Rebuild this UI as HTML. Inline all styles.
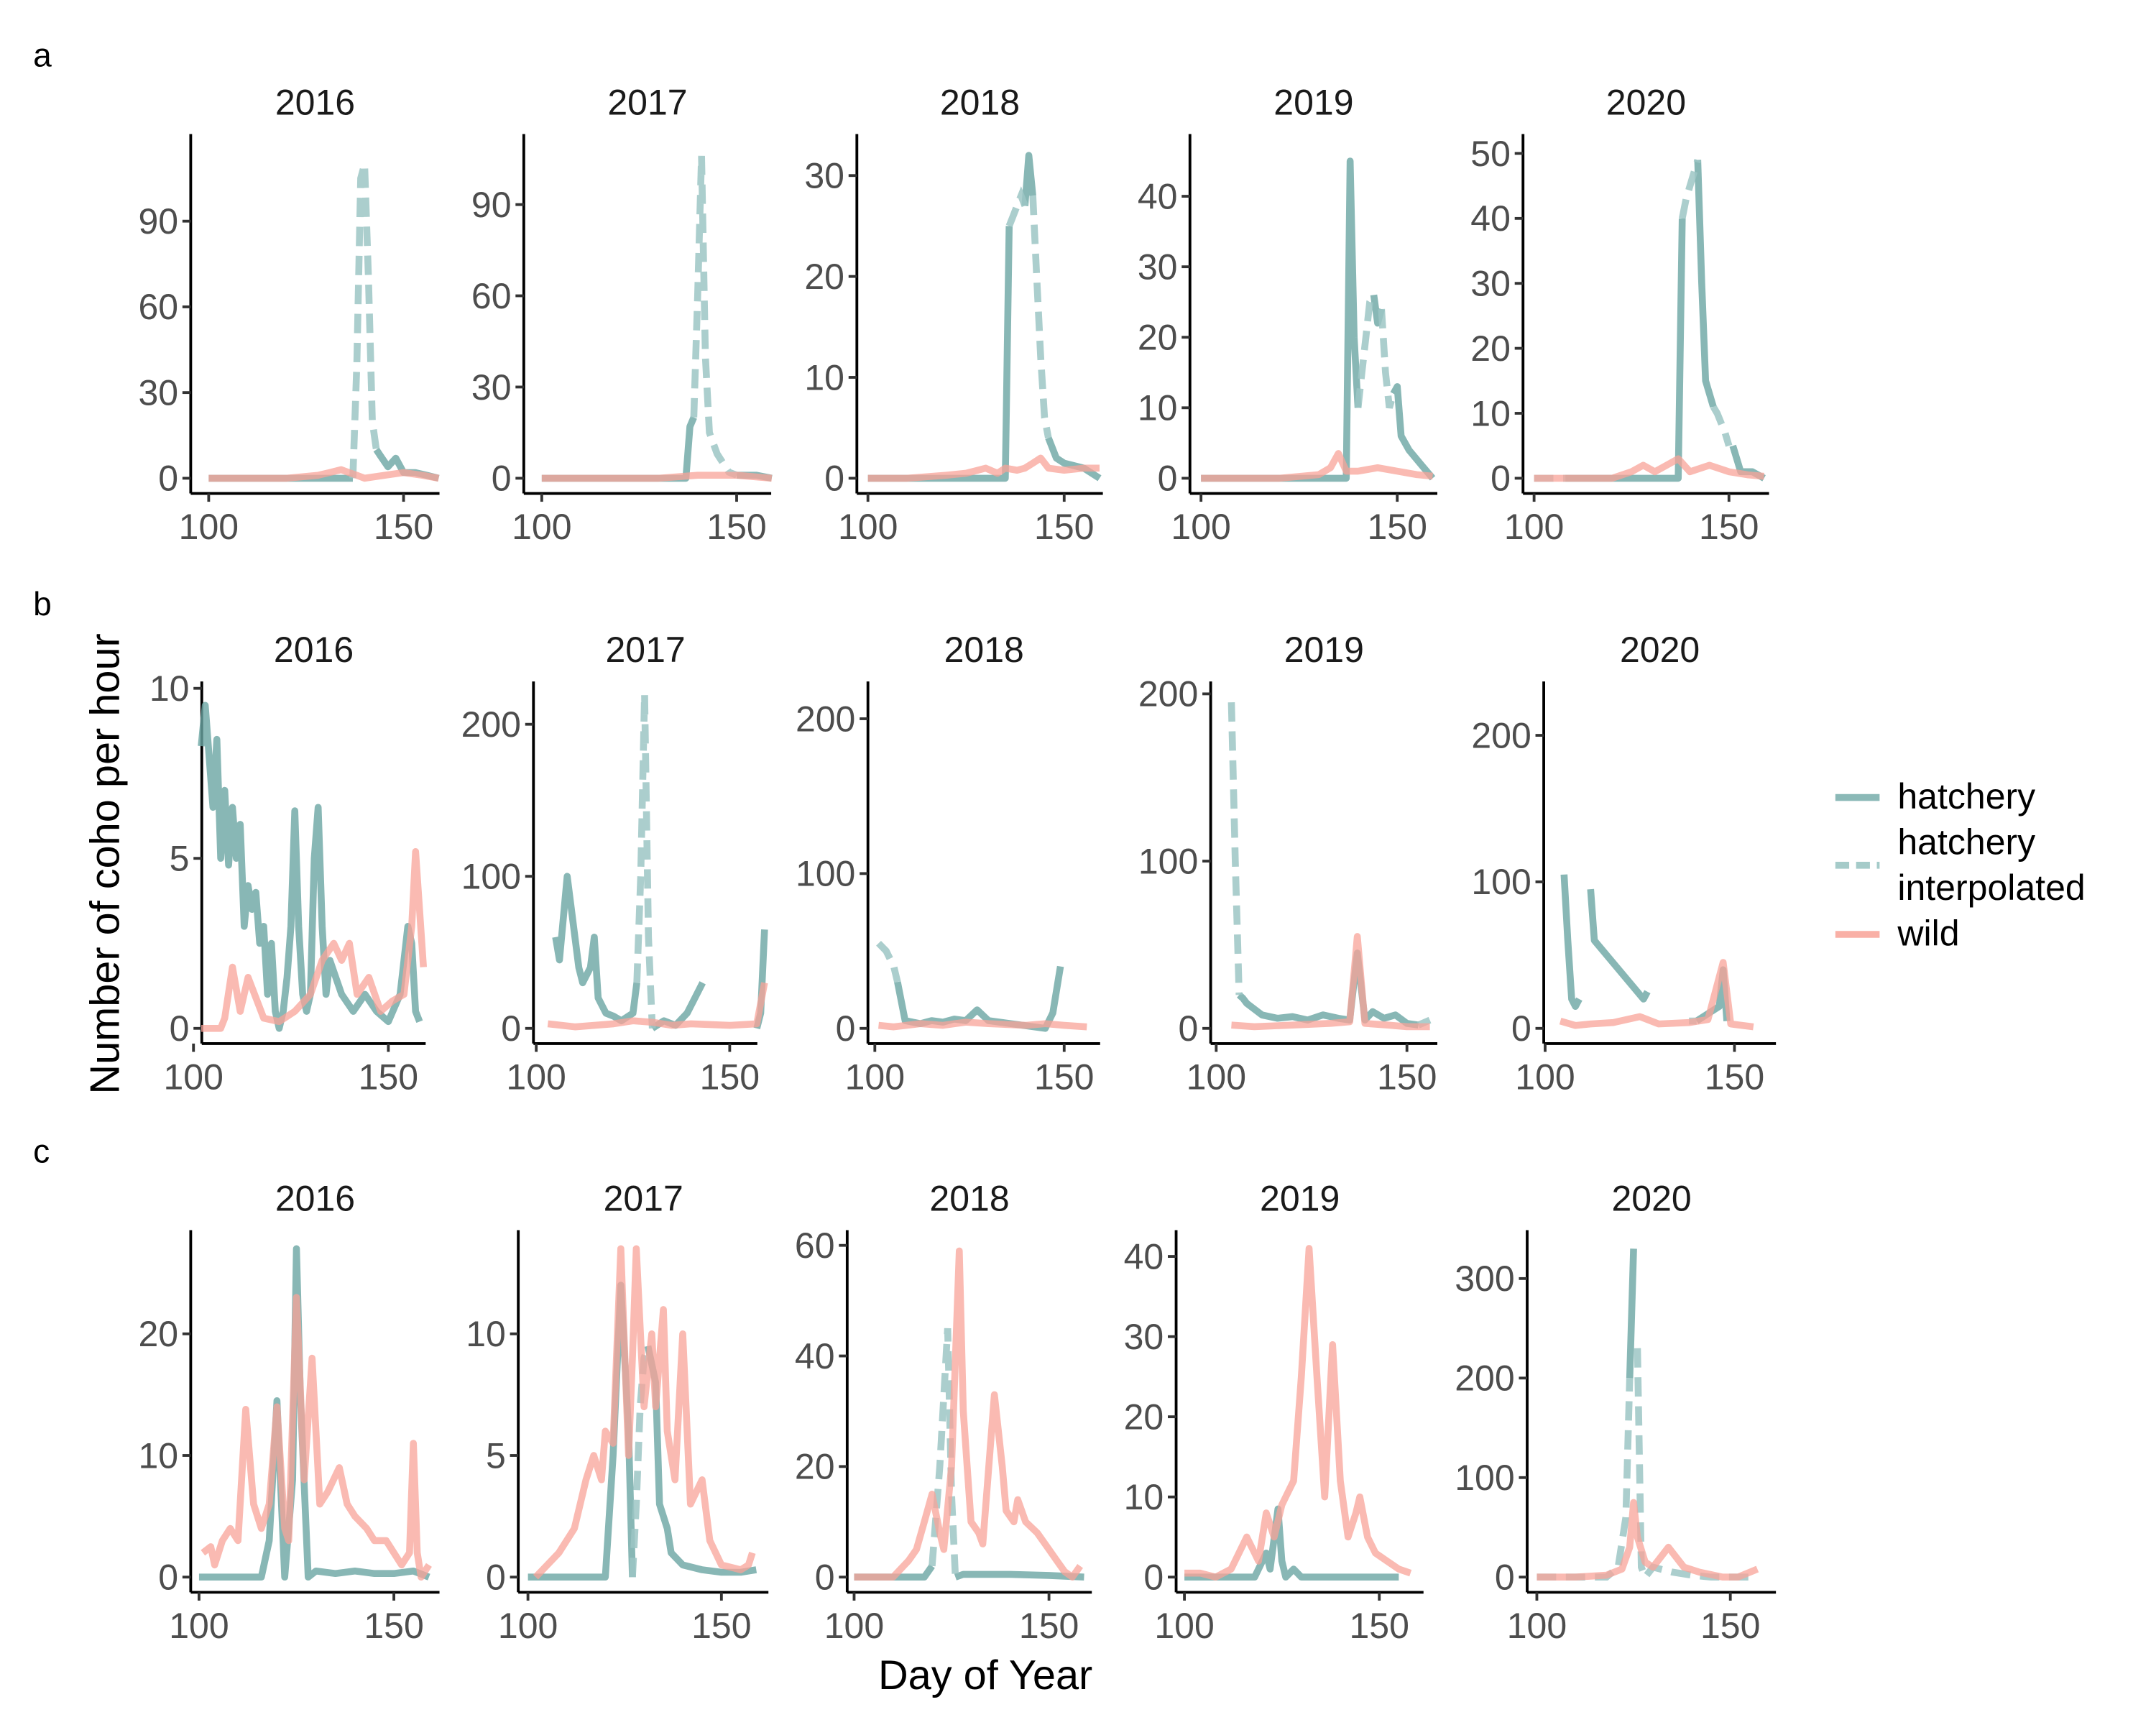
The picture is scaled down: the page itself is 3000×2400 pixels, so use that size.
<!DOCTYPE html>
<html><head><meta charset="utf-8"><style>
html,body{margin:0;padding:0;background:#fff}
svg{display:block}
text{font-family:"Liberation Sans",Arial,sans-serif}
</style></head><body>
<svg id="chart" width="3000" height="2400" viewBox="0 0 1560 1248" xmlns="http://www.w3.org/2000/svg">
<rect width="1560" height="1248" fill="#fff"/>
<text x="24" y="48" font-size="24">a</text>
<text x="24" y="445" font-size="24">b</text>
<text x="24" y="841" font-size="24">c</text>
<text transform="translate(86,625) rotate(-90)" text-anchor="middle" font-size="30">Number of coho per hour</text>
<text x="713" y="1222" text-anchor="middle" font-size="30">Day of Year</text>
<g>
<line x1="1328" y1="577" x2="1360" y2="577" stroke="#7fb2b0" stroke-width="5" opacity="0.9"/>
<text x="1373" y="585" font-size="26">hatchery</text>
<line x1="1328" y1="626" x2="1360" y2="626" stroke="#a5cbc9" stroke-width="5" stroke-dasharray="10,5"/>
<text x="1373" y="618" font-size="26">hatchery</text>
<text x="1373" y="651" font-size="26">interpolated</text>
<line x1="1328" y1="676" x2="1360" y2="676" stroke="#f9b0a6" stroke-width="5"/>
<text x="1373" y="684" font-size="26">wild</text>
</g>
<g id="panels"></g>
</svg>
<script>
const N=null;
// ---- Row a data ----
const a2016_days=[100,120,137,138,139,140,141,142,143,144,146,148,150,153,156,159];
const a2016_hatch=[0,0,0,N,N,N,N,N,10,8,4,7,2,2,1,0];
const a2016_interp=[N,N,0,40,105,110,70,20,10,N,N,N,N,N,N,N];
const a2016_wdays=[100,120,128,131,134,136,138,140,145,150,155,159];
const a2016_wild=[0,0,1,2,3,2,1,0,1,2,1,0];
const a2017_days=[100,130,137,138,139,140,141,142,143,145,148,150,155,159];
const a2017_hatch=[0,0,0,17,20,N,N,N,N,N,N,1,1,0];
const a2017_interp=[N,N,N,N,20,60,106,40,15,8,2,1,N,N];
const a2017_wdays=[100,130,140,150,159];
const a2017_wild=[0,0,1,1,0];
const a2018_days=[100,120,135,136,137,138,139,140,141,142,143,144,145,146,148,150,155,159];
const a2018_hatch=[0,0,0,25,N,N,N,27,32,28,N,N,N,4,2,1.5,1,0];
const a2018_interp=[N,N,N,25,26,27,28,27,N,28,20,12,6,4,N,N,N,N];
const a2018_wdays=[100,110,120,125,128,130,133,135,138,140,142,144,146,150,155,159];
const a2018_wild=[0,0,0.3,0.5,0.8,1,0.5,1,0.8,1,1.5,2,1,0.8,1,1];
const a2019_days=[100,120,137,138,139,140,141,142,143,144,145,146,147,148,149,150,151,153,156,159];
const a2019_hatch=[0,0,0,45,20,10,N,N,N,26,22,24,N,N,12,13,6,4,2,0];
const a2019_interp=[N,N,N,N,N,10,15,20,25,26,N,24,15,10,12,N,N,N,N,N];
const a2019_wdays=[100,120,130,133,135,137,140,145,150,155,159];
const a2019_wild=[0,0,0.5,1.5,3.5,1,1,1.5,1,0.5,0.3];
const a2020_days=[100,108,120,137,138,139,140,141,142,143,144,146,147,149,150,151,153,156,159];
const a2020_hatch=[N,0,0,0,40,N,N,N,49,30,15,11,N,N,N,5,1,1,0];
const a2020_interp=[0,0,N,N,40,43,45,47,49,N,N,11,10,7,5,N,N,N,N];
const a2020_wdays=[100,120,125,128,131,134,137,140,145,150,155,159];
const a2020_wild=[0,0,1,2,1,2,3,1,2,1,0.5,0.3];
// ---- Row b data ----
const b2016_days=[102,103,104,105,106,107,108,109,110,111,112,113,114,115,116,117,118,119,120,121,122,123,124,125,126,127,128,129,130,131,132,133,134,135,138,141,144,147,150,153,155,156,157,158];
const b2016_hatch=[8.3,9.5,8,6.5,8.5,5,7,4.8,6.5,5,6,3,4.2,3.5,4,2.5,3,1,2.5,0.5,0,0.5,1.5,3,6.4,3,1,0.5,1,5,6.5,3,1,2,1,0.5,1,0.5,0.2,1,3,2.5,0.5,0.2];
const b2016_interp=b2016_hatch.map(v=>N);
const b2016_wdays=[102,107,108,110,112,114,118,122,126,130,133,136,138,140,142,145,148,151,154,156,157,159];
const b2016_wild=[0,0,0.3,1.8,0.5,1.5,0.3,0.2,0.5,1,2,2.5,2,2.5,1,1.5,0.5,0.8,1,3,5.2,1.8];
const b2017_days=[105,106,108,109,110,111,112,114,115,116,118,120,122,125,126,127,128,129,130,133,136,139,143,144,157,158,159];
const b2017_hatch=[60,45,100,80,60,40,30,40,60,20,10,8,5,10,30,N,N,N,0,5,2,10,30,N,0,10,65];
const b2017_interp=[N,N,N,N,N,N,N,N,N,N,N,N,N,N,30,100,220,60,0,N,N,N,N,N,N,N,N];
const b2017_wdays=[103,110,115,120,125,130,135,140,150,157,159];
const b2017_wild=[3,1,2,3,5,4,2,3,2,3,30];
const b2018_days=[101,103,105,106,108,112,115,118,121,124,127,130,145,147,149];
const b2018_hatch=[N,N,N,30,5,3,5,4,6,5,12,5,0,10,40];
const b2018_interp=[55,50,40,30,N,N,N,N,N,N,N,N,N,N,N];
const b2018_wdays=[101,105,112,118,124,130,140,145,150,156];
const b2018_wild=[2,1,3,2,4,3,2,3,2,1];
const b2019_days=[104,105,106,107,108,112,116,120,124,128,132,135,137,139,141,144,147,150,153,156];
const b2019_hatch=[N,N,20,18,15,8,6,7,5,8,6,5,45,5,10,6,8,3,2,N];
const b2019_interp=[195,100,20,N,N,N,N,N,N,N,N,N,N,N,N,N,N,N,2,5];
const b2019_wdays=[104,110,120,130,135,137,139,145,150,156];
const b2019_wild=[2,1,2,3,4,55,3,2,1,1];
const b2020_days=[105,106,107,108,109,110,112,113,126,127,128,138,140,143,146,147,148,157];
const b2020_hatch=[105,60,20,15,20,N,95,60,20,25,N,N,5,10,15,40,5,N];
const b2020_interp=[N,N,N,N,N,N,N,N,N,N,N,5,5,N,N,N,N,3];
const b2020_wdays=[104,108,112,118,125,130,138,143,147,149,155];
const b2020_wild=[5,2,3,4,8,3,4,6,45,3,1];
// ---- Row c data ----
const c2016_days=[100,116,118,120,122,124,125,126,128,130,135,140,145,150,155,159];
const c2016_hatch=[0,0,3,14.5,0,8,27,15,0,0.5,0.3,0.5,0.3,0.3,0.5,0];
const c2016_interp=c2016_hatch.map(v=>N);
const c2016_wdays=[101,103,104,106,108,110,112,114,116,118,120,122,123,125,127,129,131,133,136,138,140,143,145,148,152,154,155,156,157,159];
const c2016_wild=[2,2.5,1,3,4,3,13.8,6,4,6,14,4,3,23,8,18,6,7,9,6,5,4,3,3,1,2,11,2,0,1];
const c2017_days=[100,120,122,124,126,127,128,129,130,131,133,134,136,137,140,145,150,155,159];
const c2017_hatch=[0,0,5,12,6,0,N,N,N,9.5,8,3,2,1,0.5,0.3,0.2,0.2,0.3];
const c2017_interp=[N,N,N,N,N,0,3,7,9,9.5,N,N,N,N,N,N,N,N,N];
const c2017_wdays=[102,105,108,110,112,115,117,119,120,122,124,126,127,128,130,132,133,135,136,138,140,142,145,147,150,155,157,158];
const c2017_wild=[0,0.5,1,1.5,2,4,5,4,6,5.5,13.5,5,9,13.5,7,10,7,11,6,4,10,3,4,1.5,0.5,0.3,0.5,1];
const c2018_days=[100,118,120,122,124,125,126,128,132,140,150,159];
const c2018_hatch=[0,0,2,N,N,N,0,0.5,0.5,0.5,0.3,0];
const c2018_interp=[N,N,2,20,45,15,0,N,N,N,N,N];
const c2018_wdays=[100,110,114,116,118,120,122,123,125,127,128,130,132,133,134,136,138,139,141,142,144,147,150,152,154,156,158];
const c2018_wild=[0,0,3,5,10,15,8,5,20,59,30,10,8,6,15,33,20,12,10,14,10,8,5,3,1,0,2];
const c2019_days=[100,118,121,122,124,125,126,128,130,135,145,155];
const c2019_hatch=[0,0,3,1,8.5,2,0,1,0,0,0,0];
const c2019_interp=c2019_hatch.map(v=>N);
const c2019_wdays=[100,104,108,112,116,118,119,121,123,125,126,128,130,132,134,136,138,140,142,144,145,147,149,152,155,158];
const c2019_wild=[0.5,0.5,0,1,5,3,2,8,5,9,10,12,25,41,25,10,29,12,5,8,10,5,3,2,1,0.5];
const c2020_days=[100,110,118,121,123,124,125,126,127,128,130,135,140,145,150,155];
const c2020_hatch=[N,N,N,N,N,200,330,N,N,N,N,N,N,N,N,N];
const c2020_interp=[0,0,0,10,60,200,N,230,10,0,10,5,2,0,0,0];
const c2020_wdays=[100,110,118,122,124,125,126,128,130,134,138,142,148,152,157];
const c2020_wild=[0,0,2,8,30,75,40,15,10,30,10,5,0,0,8];

const panels=[
 {n:'a2016',t:'2016',x0:138,x1:318,p100:151,p150:292,top:97,axY:357,z0:346,ticks:[0,30,60,90],tk2:284},
 {n:'a2017',t:'2017',x0:379,x1:558,p100:392,p150:533,top:97,axY:357,z0:346,ticks:[0,30,60,90],tk2:280},
 {n:'a2018',t:'2018',x0:620,x1:798,p100:628,p150:770,top:97,axY:357,z0:346,ticks:[0,10,20,30],tk2:273},
 {n:'a2019',t:'2019',x0:861,x1:1040,p100:869,p150:1011,top:97,axY:357,z0:346,ticks:[0,10,20,30,40],tk2:295},
 {n:'a2020',t:'2020',x0:1102,x1:1280,p100:1110,p150:1251,top:97,axY:357,z0:346,ticks:[0,10,20,30,40,50],tk2:299},
 {n:'b2016',t:'2016',x0:146,x1:308,p100:140,p150:281,top:493,axY:755,z0:744,ticks:[0,5,10],tk2:621},
 {n:'b2017',t:'2017',x0:386,x1:548,p100:388,p150:528,top:493,axY:755,z0:744,ticks:[0,100,200],tk2:634},
 {n:'b2018',t:'2018',x0:628,x1:796,p100:633,p150:770,top:493,axY:755,z0:744,ticks:[0,100,200],tk2:632},
 {n:'b2019',t:'2019',x0:876,x1:1040,p100:880,p150:1018,top:493,axY:755,z0:744,ticks:[0,100,200],tk2:623},
 {n:'b2020',t:'2020',x0:1117,x1:1285,p100:1118,p150:1255,top:493,axY:755,z0:744,ticks:[0,100,200],tk2:638},
 {n:'c2016',t:'2016',x0:138,x1:318,p100:144,p150:285,top:890,axY:1152,z0:1141,ticks:[0,10,20],tk2:1053},
 {n:'c2017',t:'2017',x0:375,x1:556,p100:382,p150:522,top:890,axY:1152,z0:1141,ticks:[0,5,10],tk2:1053},
 {n:'c2018',t:'2018',x0:613,x1:790,p100:618,p150:759,top:890,axY:1152,z0:1141,ticks:[0,20,40,60],tk2:1061},
 {n:'c2019',t:'2019',x0:851,x1:1030,p100:857,p150:998,top:890,axY:1152,z0:1141,ticks:[0,10,20,30,40],tk2:1083},
 {n:'c2020',t:'2020',x0:1105,x1:1285,p100:1112,p150:1252,top:890,axY:1152,z0:1141,ticks:[0,100,200,300],tk2:1069}
];
const NS='http://www.w3.org/2000/svg';
const root=document.getElementById('panels');
function mk(tag,attrs,parent){const e=document.createElementNS(NS,tag);for(const k in attrs)e.setAttribute(k,attrs[k]);parent.appendChild(e);return e;}
function pathFor(days,vals,xs,ys){let d='',pen=false;for(let i=0;i<days.length;i++){const v=vals[i];if(v===null||v===undefined){pen=false;continue;}d+=(pen?'L':'M')+xs(days[i]).toFixed(1)+','+ys(v).toFixed(1);pen=true;}return d;}
panels.forEach(p=>{
 const D=eval(p.n+'_days');
 const H=eval(p.n+'_hatch'),I=eval(p.n+'_interp'),WD=eval(p.n+'_wdays'),W=eval(p.n+'_wild');
 const xs=d=>p.p100+(d-100)*(p.p150-p.p100)/50;
 const ys=v=>p.z0+v*(p.tk2-p.z0)/p.ticks[1];
 const g=mk('g',{},root);
 
 
 const tt=mk('text',{x:(p.x0+p.x1)/2,y:p.top-14,'text-anchor':'middle','font-size':26,fill:'#1a1a1a'},g);
 tt.textContent=p.t;
 
 
 const l1=mk('line',{x1:p.x0,y1:p.top,x2:p.x0,y2:p.axY,stroke:'#000','stroke-width':2},g);
 
 
 const l2=mk('line',{x1:p.x0,y1:p.axY,x2:p.x1,y2:p.axY,stroke:'#000','stroke-width':2},g);
 
 
 p.ticks.forEach(v=>{const y=ys(v);mk('line',{x1:p.x0-6,y1:y,x2:p.x0,y2:y,stroke:'#333','stroke-width':2},g);
  const t=mk('text',{x:p.x0-9,y:y+9,'text-anchor':'end','font-size':26,fill:'#4d4d4d'},g);t.textContent=v;
  
  });
 [100,150].forEach(v=>{const x=xs(v);mk('line',{x1:x,y1:p.axY,x2:x,y2:p.axY+6,stroke:'#333','stroke-width':2},g);
  const t=mk('text',{x:x,y:p.axY+33,'text-anchor':'middle','font-size':26,fill:'#4d4d4d'},g);t.textContent=v;
  
  });
 const ph=mk('path',{d:pathFor(D,H,xs,ys),fill:'none',stroke:'#6aa5a3','stroke-width':5,opacity:0.8,'stroke-linejoin':'round'},g);
 
 
 const pi=mk('path',{d:pathFor(D,I,xs,ys),fill:'none',stroke:'#9cc6c4','stroke-width':5,opacity:0.85,'stroke-dasharray':'14,7'},g);
 
 
 const pw=mk('path',{d:pathFor(WD,W,xs,ys),fill:'none',stroke:'#f8a398','stroke-width':5,opacity:0.75,'stroke-linejoin':'round'},g);
 
 
});
</script>
</body></html>
